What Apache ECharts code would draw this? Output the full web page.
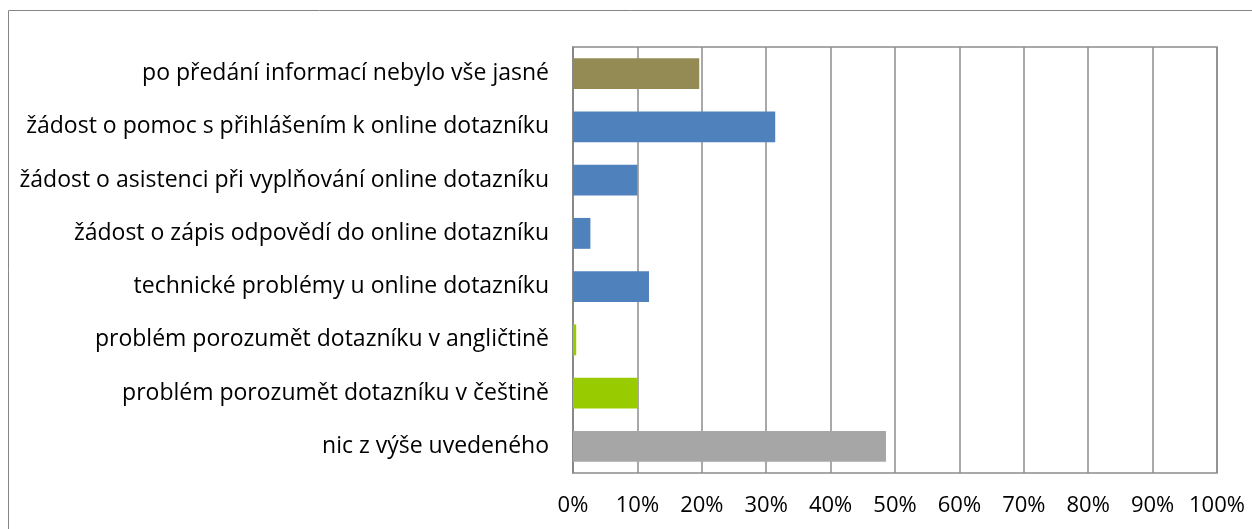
<!DOCTYPE html>
<html>
<head>
<meta charset="utf-8">
<script src="https://cdn.jsdelivr.net/npm/echarts@6/dist/echarts.min.js"></script>
<style>
  html, body { margin: 0; padding: 0; background: #fff; }
  #chart { width: 1252px; height: 529px; }
</style>
</head>
<body>
<div id="chart"></div>
<script>
// categories listed bottom -> top (as echarts draws a category y axis)
const categories = [
  'nic z výše uvedeného',
  'problém porozumět dotazníku v češtině',
  'problém porozumět dotazníku v angličtině',
  'technické problémy u online dotazníku',
  'žádost o zápis odpovědí do online dotazníku',
  'žádost o asistenci při vyplňování online dotazníku',
  'žádost o pomoc s přihlášením k online dotazníku',
  'po předání informací nebylo vše jasné'
];
const values = [48.6, 10.1, 0.5, 11.8, 2.7, 10.0, 31.4, 19.6];
const barColors = ['#a6a6a6', '#99cc00', '#99cc00', '#4f81bd', '#4f81bd', '#4f81bd', '#4f81bd', '#948a54'];

const chart = echarts.init(document.getElementById('chart'));
const font = '"Open Sans", sans-serif';

chart.setOption({
  animation: false,
  graphic: [{
    type: 'rect',
    shape: { x: 8.5, y: 10.5, width: 1300, height: 600 },
    style: { fill: 'none', stroke: '#868686', lineWidth: 1 },
    silent: true
  }],
  grid: { left: 573, right: 35, top: 47, bottom: 56, show: true, borderColor: '#8c8c8c', borderWidth: 1.5 },
  xAxis: {
    type: 'value',
    min: 0,
    max: 100,
    interval: 10,
    axisLine: { show: false },
    axisTick: { show: false },
    splitLine: { lineStyle: { color: '#8c8c8c', width: 1.5 } },
    axisLabel: { formatter: '{value}%', color: '#000', fontFamily: font, fontSize: 22, margin: 22 }
  },
  yAxis: {
    type: 'category',
    data: categories,
    axisLine: { lineStyle: { color: '#868686', width: 1.5 } },
    axisTick: { show: false },
    axisLabel: { color: '#000', fontFamily: font, fontSize: 23, margin: 24 }
  },
  series: [{
    type: 'bar',
    data: values.map((v, i) => ({ value: v, itemStyle: { color: barColors[i] } })),
    barWidth: '58%'
  }]
});
</script>
</body>
</html>
